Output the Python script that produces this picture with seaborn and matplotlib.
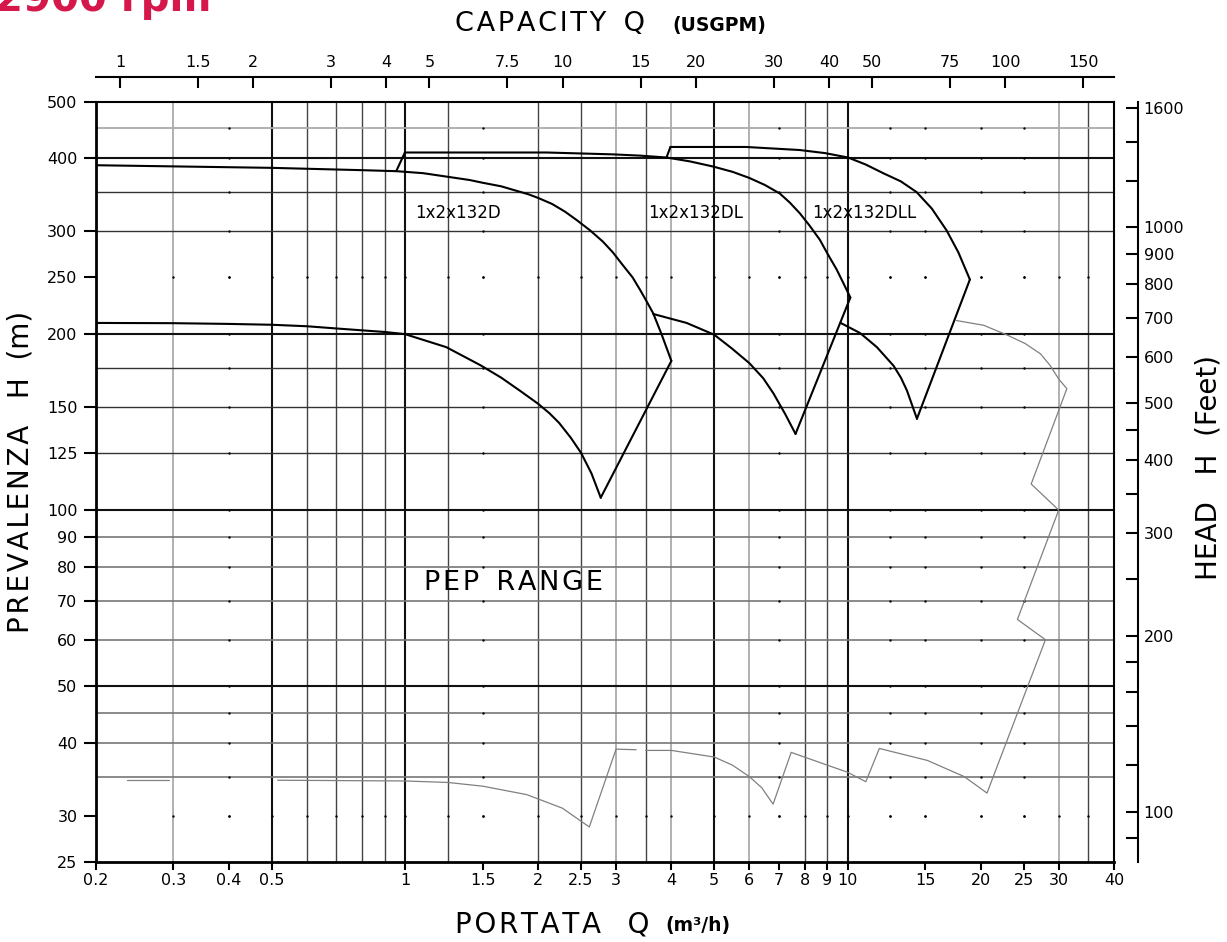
import numpy as np
import pandas as pd
import matplotlib
matplotlib.use("Agg")
import matplotlib.pyplot as plt
import matplotlib.ticker as mticker
import seaborn as sns

# ---- curve data (Q in m3/h, H in m) ----
q_132d_max = [0.2, 0.5, 0.8, 0.956, 1.1, 1.24, 1.4, 1.5, 1.65, 1.758, 1.9, 2.0, 2.15, 2.3,
              2.45, 2.62, 2.8, 2.95, 3.1, 3.27, 3.4, 3.5, 3.64, 3.8, 4.0]
h_132d_max = [389, 385, 381.5, 380, 377, 372, 367, 363, 358, 353, 347, 342, 334, 324,
              313, 301, 288, 276, 263, 250, 238, 229, 217, 200, 180]
q_132d_min = [0.2, 0.3, 0.4, 0.5, 0.6, 0.7, 0.8, 0.9, 1.0, 1.24, 1.48, 1.65, 1.82, 2.0,
              2.12, 2.23, 2.37, 2.5, 2.64, 2.77]
h_132d_min = [209, 208.8, 208.2, 207.5, 206.3, 204.5, 203, 201.7, 200, 190, 177, 168.5, 160,
              152, 146.5, 141, 133, 125.3, 115.5, 105]
q_132d_end = [4.0, 2.77]
h_132d_end = [180, 105]

q_step_dl = [0.956, 1.0]
h_step_dl = [380, 409]
q_132dl_max = [1.0, 2.09, 2.95, 3.4, 3.9, 4.4, 4.97, 5.5, 6.0, 6.5, 7.03, 7.4, 7.8, 8.2,
               8.66, 9.0, 9.45, 9.8, 10.15]
h_132dl_max = [409, 409, 406, 404, 401, 395, 387, 379, 370, 360, 348, 336, 322, 307,
               290, 275, 258, 244, 231]
q_132dl_min = [3.64, 4.33, 5.0, 5.47, 6.0, 6.45, 6.8, 7.23, 7.63]
h_132dl_min = [216.5, 209, 199.5, 189.2, 178.4, 168.1, 158.4, 146, 135]
q_132dl_end = [10.15, 7.63]
h_132dl_end = [231, 135]

q_step_dll = [3.9, 3.98]
h_step_dll = [401, 418]
q_132dll_max = [3.98, 5.9, 7.8, 8.9, 10.03, 11.0, 12.04, 13.2, 14.32, 15.5, 16.74, 17.8, 18.9]
h_132dll_max = [418, 418, 413, 408, 401, 390, 377, 365, 350, 328, 301, 276, 248]
q_132dll_min = [9.65, 10.68, 11.65, 12.71, 13.2, 13.62, 14.35]
h_132dll_min = [209, 200.8, 190, 176.5, 168.5, 160.2, 143.3]
q_132dll_end = [18.9, 14.35]
h_132dll_end = [248, 143.3]

# PEP range (thin grey line)
q_pep1 = [0.236, 0.293]
h_pep1 = [34.5, 34.5]
q_pep2 = [0.516, 1.0, 1.25, 1.5, 1.885, 2.27, 2.61, 3.0, 3.33]
h_pep2 = [34.5, 34.4, 34.2, 33.7, 32.6, 30.9, 28.7, 39.0, 38.9]
q_pep3 = [3.5, 4.0, 5.0, 5.5, 6.0, 6.4, 6.79, 7.46, 10.0, 11.0, 11.8, 15.15, 18.35, 20.66,
          28.0, 24.2, 30.0, 26.0, 31.3, 30.0, 28.7, 27.3, 25.2, 22.9, 20.3, 17.6]
h_pep3 = [38.8, 38.8, 37.8, 36.6, 35.0, 33.5, 31.4, 38.5, 35.6, 34.3, 39.1, 37.3, 35.0, 32.8,
          60.0, 65.0, 100.0, 110.8, 161.3, 167.6, 176.7, 185.0, 192.7, 199.4, 207.1, 211.0]

# ---- axes ticks / grid ----
x_ticks = [0.2, 0.3, 0.4, 0.5, 1, 1.5, 2, 2.5, 3, 4, 5, 6, 7, 8, 9, 10, 15, 20, 25, 30, 40]
x_labels = ["0.2", "0.3", "0.4", "0.5", "1", "1.5", "2", "2.5", "3", "4", "5", "6", "7",
            "8", "9", "10", "15", "20", "25", "30", "40"]
y_ticks = [25, 30, 40, 50, 60, 70, 80, 90, 100, 125, 150, 200, 250, 300, 400, 500]
y_labels = [str(v) for v in y_ticks]

gpm_ticks = [1, 1.5, 2, 3, 4, 5, 7.5, 10, 15, 20, 30, 40, 50, 75, 100, 150]
gpm_labels = ["1", "1.5", "2", "3", "4", "5", "7.5", "10", "15", "20", "30", "40", "50",
              "75", "100", "150"]
ft_ticks = [90, 100, 120, 140, 160, 180, 200, 250, 300, 350, 400, 450, 500, 600, 700, 800,
            900, 1000, 1200, 1400, 1600]
ft_labels = ["", "100", "", "", "", "", "200", "", "300", "", "400", "", "500", "600", "700",
             "800", "900", "1000", "", "", "1600"]

grid_x_dark = [0.5, 1, 5, 10]
grid_x_mid = [0.6, 0.7, 0.8, 0.9, 1.25, 2, 2.5, 3.5, 8, 9, 35]
grid_x_light = [0.3, 3, 4, 6, 30]
grid_y_dark = [50, 100, 200, 400]
grid_y_mid = [125, 150, 175, 300, 350]
grid_y_light = [35, 40, 45, 60, 70, 80, 90]
grid_y_pale = [450]
dot_cols = [0.4, 1.5, 7, 12.5, 15, 20, 25]
dot_rows = [30, 250]

sns.set_style("ticks")
plt.rcParams['font.family'] = ['DejaVu Sans']
plt.rcParams.update({'text.color': 'black', 'xtick.color': 'black', 'ytick.color': 'black',
                     'axes.edgecolor': 'black', 'axes.labelcolor': 'black'})

HS = "\u200a"  # hair space, used to widen the lettering of the axis names


def spaced(s):
    return HS.join(s)


fig = plt.figure(figsize=(12.27, 9.42), dpi=100)
ax = fig.add_axes([95.5 / 1227, 80 / 942, 1018.5 / 1227, 760.5 / 942])
ax.set_xscale('log')
ax.set_yscale('log')
ax.set_xlim(0.2, 40)
ax.set_ylim(25, 500)

for x in grid_x_dark:
    ax.axvline(x, color='#111111', lw=1.5, zorder=1)
for x in grid_x_mid:
    ax.axvline(x, color='#444444', lw=1.0, zorder=1)
for x in grid_x_light:
    ax.axvline(x, color='#aaaaaa', lw=1.3, zorder=1)
for y in grid_y_dark:
    ax.axhline(y, color='#111111', lw=1.5, zorder=1)
for y in grid_y_mid:
    ax.axhline(y, color='#333333', lw=1.0, zorder=1)
for y in grid_y_light:
    ax.axhline(y, color='#777777', lw=1.2, zorder=1)
for y in grid_y_pale:
    ax.axhline(y, color='#aaaaaa', lw=1.3, zorder=1)

all_cols = grid_x_dark + grid_x_mid + grid_x_light + dot_cols
all_rows = grid_y_dark + grid_y_mid + grid_y_light + grid_y_pale + dot_rows
dots = pd.DataFrame([(c, r) for c in dot_cols for r in all_rows] +
                    [(c, r) for c in all_cols for r in dot_rows], columns=['q', 'h'])
sns.scatterplot(data=dots, x='q', y='h', s=3, color='k', linewidth=0, ax=ax, zorder=2)


def curve(q, h, color='k', lw=1.5):
    sns.lineplot(x=q, y=h, sort=False, estimator=None, color=color, lw=lw, ax=ax, zorder=3)


for q, h in [(q_132d_max, h_132d_max), (q_132d_min, h_132d_min), (q_132d_end, h_132d_end),
             (q_step_dl, h_step_dl), (q_132dl_max, h_132dl_max), (q_132dl_min, h_132dl_min),
             (q_132dl_end, h_132dl_end), (q_step_dll, h_step_dll),
             (q_132dll_max, h_132dll_max), (q_132dll_min, h_132dll_min),
             (q_132dll_end, h_132dll_end)]:
    curve(q, h)
for q, h in [(q_pep1, h_pep1), (q_pep2, h_pep2), (q_pep3, h_pep3)]:
    curve(q, h, color='#808080', lw=0.9)

ax.text(1.054, 322, "1x2x132D", fontsize=12, va='center', ha='left', zorder=4)
ax.text(3.54, 322, "1x2x132DL", fontsize=12, va='center', ha='left', zorder=4)
ax.text(8.31, 322, "1x2x132DLL", fontsize=12, va='center', ha='left', zorder=4)
ax.text(1.104, 75, spaced("PEP") + "  " + spaced("RANGE"), fontsize=19.5,
        va='center', ha='left', zorder=4)

ax.xaxis.set_major_locator(mticker.FixedLocator(x_ticks))
ax.xaxis.set_major_formatter(mticker.FixedFormatter(x_labels))
ax.xaxis.set_minor_locator(mticker.NullLocator())
ax.yaxis.set_major_locator(mticker.FixedLocator(y_ticks))
ax.yaxis.set_major_formatter(mticker.FixedFormatter(y_labels))
ax.yaxis.set_minor_locator(mticker.NullLocator())
ax.tick_params(axis='x', direction='out', length=6, width=1.5, labelsize=11.5, pad=2)
ax.tick_params(axis='y', direction='out', length=9, width=1.5, labelsize=11.5, pad=4)
ax.set_xlabel("")
ax.set_ylabel("")
for side, s in ax.spines.items():
    s.set_visible(True)
    s.set_linewidth(2.0 if side in ('left', 'bottom') else 1.5)
    s.set_zorder(5)

secx = ax.secondary_xaxis(1.032, functions=(lambda q: q * 4.4029, lambda g: g / 4.4029))
secx.set_xticks(gpm_ticks, labels=gpm_labels)
secx.xaxis.set_minor_locator(mticker.NullLocator())
secx.tick_params(direction='in', length=8, width=1.5, labelsize=11.5, pad=5)
secx.spines['top'].set_linewidth(1.5)

secy = ax.secondary_yaxis(1.0236, functions=(lambda h: h * 3.2808, lambda f: f / 3.2808))
secy.set_yticks(ft_ticks, labels=ft_labels)
secy.yaxis.set_minor_locator(mticker.NullLocator())
secy.tick_params(direction='in', length=9, width=1.5, labelsize=11.5, pad=4)
secy.spines['right'].set_linewidth(1.5)

# titles / axis names
fig.text(-0.004, 1 - 11 / 942, "2900 rpm", color='#d6174b', fontsize=29, fontweight='bold',
         va='baseline', ha='left')
fig.text(455 / 1227, 1 - 24 / 942, spaced("CAPACITY") + "  Q", fontsize=19.5,
         va='center', ha='left')
fig.text(672 / 1227, 1 - 25 / 942, "(USGPM)", fontsize=13.5, fontweight='bold',
         va='center', ha='left')
fig.text(455 / 1227, 1 - 924 / 942, spaced("PORTATA") + "   Q", fontsize=20,
         va='center', ha='left')
fig.text(665 / 1227, 1 - 925 / 942, "(m³/h)", fontsize=13.5, fontweight='bold',
         va='center', ha='left')
fig.text(21 / 1227, 1 - 472 / 942, spaced("PREVALENZA") + "   H  (m)", rotation=90,
         fontsize=20, va='center', ha='center')
fig.text(1209 / 1227, 1 - 468 / 942, "HEAD   H  (Feet)", rotation=90, fontsize=20,
         va='center', ha='center')

fig.savefig("out.png", dpi=100)
